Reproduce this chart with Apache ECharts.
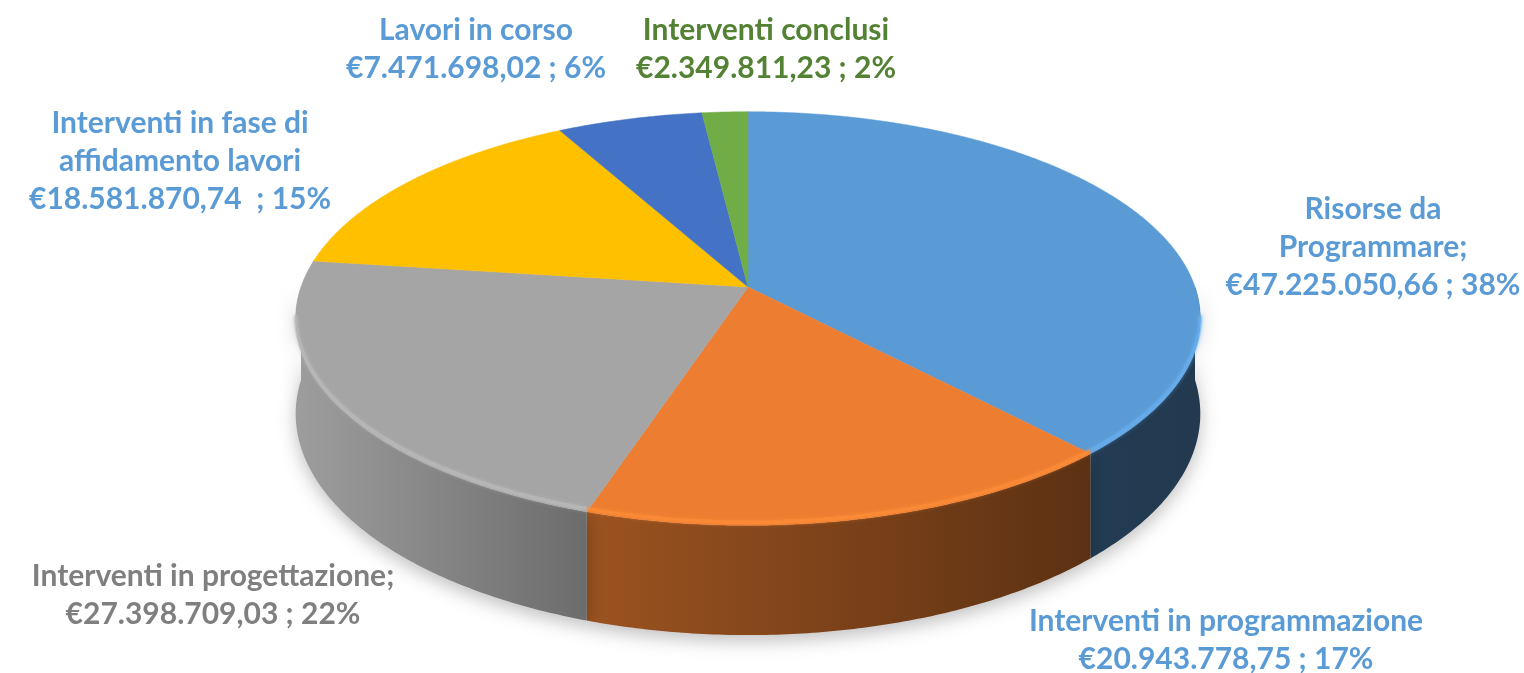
<!DOCTYPE html>
<html>
<head>
<meta charset="utf-8">
<script src="https://cdn.jsdelivr.net/npm/echarts@6/dist/echarts.min.js"></script>
<style>html,body{margin:0;padding:0;background:#fff}#c{width:1524px;height:673px}</style>
</head>
<body>
<div id="c"></div>
<script>
const categories = ['Risorse da Programmare','Interventi in programmazione','Interventi in progettazione','Interventi in fase di affidamento lavori','Lavori in corso','Interventi conclusi'];
const values = [47225050.66, 20943778.75, 27398709.03, 18581870.74, 7471698.02, 2349811.23];
const labelNames = ['Risorse da\nProgrammare;','Interventi in programmazione','Interventi in progettazione;','Interventi in fase di\naffidamento lavori','Lavori in corso','Interventi conclusi'];
const labelSeps = [' ; ',' ; ',' ; ','  ; ',' ; ',' ; '];
const topColors = ['#5b9bd5','#ed7d31','#a5a5a5','#ffc000','#4472c4','#70ad47'];
const labelColors = ['#5b9bd5','#5b9bd5','#7f7f7f','#5b9bd5','#5b9bd5','#548235'];
const labelPos = [[1373,247],[1226,640],[213,595],[180,161],[476,49],[766,49]];

const total = values.reduce((a,b)=>a+b,0);
const starts = []; let acc = 0;
values.forEach(v=>{starts.push(acc/total); acc+=v;});

// projection of a tilted disc (perspective)
const CX=748, CY=287, A=447, B=202, E=0.1525, D=93;
function proj(t,h){const x=Math.sin(t), z=Math.cos(t); const w=1+E*z; return [CX+A*x/w, CY-B*z/w+D*h/w];}

function hexToRgb(h){return [parseInt(h.substr(1,2),16),parseInt(h.substr(3,2),16),parseInt(h.substr(5,2),16)];}
function shade(h,f){const c=hexToRgb(h);return 'rgb('+c.map(v=>Math.min(255,Math.round(v*f))).join(',')+')';}

function fmt(v){
  const s=v.toFixed(2).split('.');
  const ip=s[0].replace(/\B(?=(\d{3})+(?!\d))/g,'.');
  return '€'+ip+','+s[1];
}

const VIS0 = Math.acos(-E), VIS1 = 2*Math.PI - Math.acos(-E);

function renderItem(params, api){
  const i = params.dataIndex;
  const v = api.value(0);
  const t0 = starts[i]*2*Math.PI, t1 = t0 + v/total*2*Math.PI;
  const children = [];
  const c=topColors[i];
  // side wall (front half)
  const s0 = Math.max(t0, Math.PI/2), s1 = Math.min(t1, 3*Math.PI/2);
  if (s1 > s0){
    const pts=[]; const n=Math.max(4,Math.ceil((s1-s0)/0.01));
    for(let k=0;k<=n;k++){pts.push(proj(s0+(s1-s0)*k/n,0));}
    for(let k=n;k>=0;k--){pts.push(proj(s0+(s1-s0)*k/n,1));}
    children.push({type:'polygon', z2:1, shape:{points:pts}, style:{
      fill:new echarts.graphic.LinearGradient(298,0,1198,0,[
        {offset:0,color:shade(c,0.95)},{offset:0.315,color:shade(c,0.66)},
        {offset:0.88,color:shade(c,0.39)},{offset:1,color:shade(c,0.37)}],true),
      shadowColor:'rgba(0,0,0,0.25)', shadowBlur:18, shadowOffsetY:6}});
  }
  // top face
  const pts=[[CX,CY]]; const n=Math.max(4,Math.ceil((t1-t0)/0.01));
  for(let k=0;k<=n;k++){pts.push(proj(t0+(t1-t0)*k/n,0));}
  children.push({type:'polygon', z2:5, shape:{points:pts}, style:{fill:c, stroke:c, lineWidth:0.5}});
  // soft bevel highlight on visible front rim
  const h0 = Math.max(t0, VIS0), h1 = Math.min(t1, VIS1);
  if (h1 > h0){
    const m=Math.max(4,Math.ceil((h1-h0)/0.01)); const rim=[];
    for(let k=0;k<=m;k++){const p=proj(h0+(h1-h0)*k/m,0); rim.push([p[0],p[1]-3]);}
    children.push({type:'polyline', z2:6, shape:{points:rim}, style:{stroke:shade(c,1.15), lineWidth:4, fill:null, opacity:0.55, shadowColor:shade(c,1.15), shadowBlur:4}});
  }
  return {type:'group', children};
}

const graphics = categories.map((c,i)=>({
  type:'text', x:labelPos[i][0], y:labelPos[i][1], z:10,
  style:{text:labelNames[i]+'\n'+fmt(values[i])+labelSeps[i]+Math.round(values[i]/total*100)+'%',
    fill:labelColors[i], font:'bold 30px Lato', align:'center', verticalAlign:'middle', lineHeight:38}
}));

const chart = echarts.init(document.getElementById('c'));
chart.setOption({
  animation:false,
  backgroundColor:'#ffffff',
  series:[{type:'custom', coordinateSystem:'none', renderItem,
    data: values.map((v,i)=>({name:categories[i], value:[v]}))}],
  graphic: graphics
});
</script>
</body>
</html>
